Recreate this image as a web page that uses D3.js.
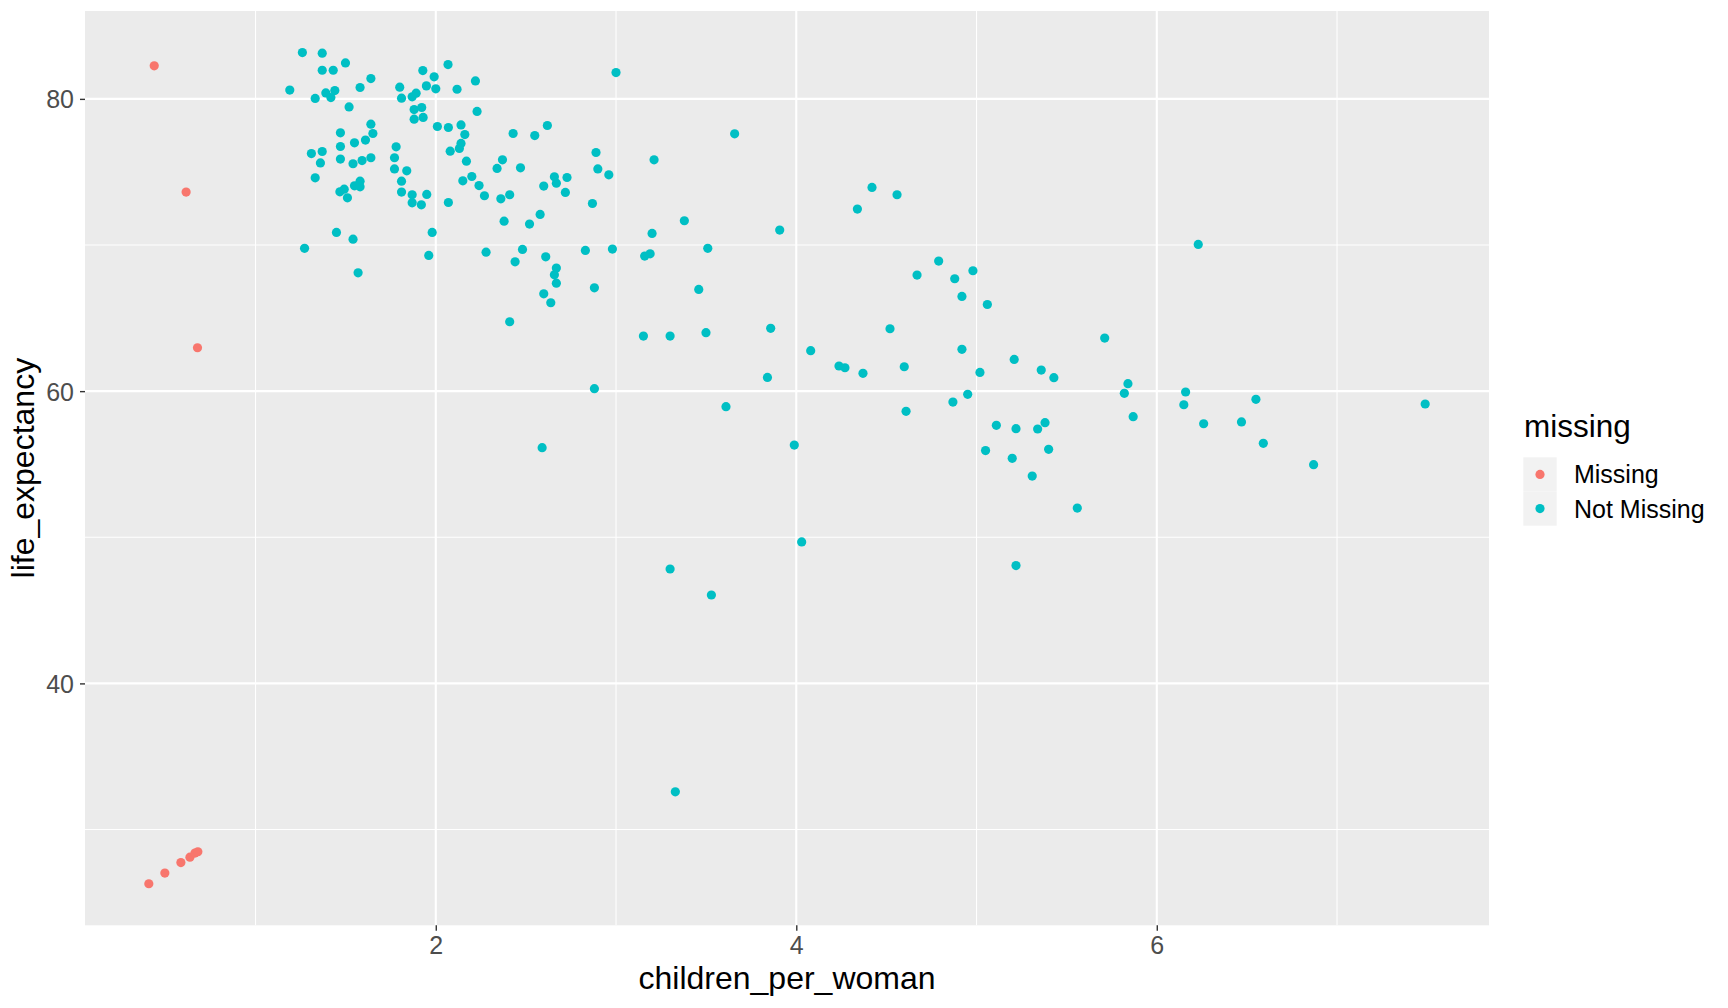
<!DOCTYPE html>
<html>
<head>
<meta charset="utf-8">
<script src="https://cdn.jsdelivr.net/npm/d3@7"></script>
<style>
  html, body { margin: 0; padding: 0; background: #ffffff; }
  svg { display: block; font-family: "Liberation Sans", Arial, Helvetica, sans-serif; }
</style>
</head>
<body>
<svg id="chart" width="1728" height="1008"></svg>
<script>
// ---------------- data ----------------
const groups = ["Missing", "Not Missing"];
const groupColors = ["#F8766D", "#00BFC4"];

const missingChildren = [0.438, 0.615, 0.678, 0.408, 0.497, 0.586, 0.636, 0.664, 0.680];
const missingLife     = [82.26, 73.62, 62.97, 26.29, 27.02, 27.74, 28.11, 28.39, 28.48];

const notMissingChildren = [
  1.260, 1.370, 1.499, 1.370, 1.431, 1.640, 1.190, 1.390, 1.418, 1.440,
  1.331, 1.580, 1.519, 1.800, 1.810, 1.928, 1.991, 2.068, 1.948, 2.000,
  1.869, 1.891, 2.118, 2.220, 3.000, 1.880, 1.922, 1.880, 1.930, 2.229,
  2.009, 2.070, 2.140, 2.161, 1.640, 1.651, 1.471, 1.610, 1.549, 1.471,
  1.310, 1.370, 1.360, 1.471, 1.541, 1.591, 1.640, 1.331, 1.780, 1.771,
  1.771, 1.839, 1.810, 1.810, 1.869, 1.869, 1.920, 1.950, 2.070, 2.080,
  2.131, 2.140, 2.170, 2.200, 2.150, 2.240, 2.270, 2.429, 2.549, 2.619,
  2.370, 2.340, 2.470, 2.361, 2.410, 2.379, 2.520, 2.579, 2.599, 2.658,
  2.669, 2.728, 2.719, 2.889, 2.899, 2.960, 2.869, 1.449, 1.541, 1.272,
  1.569, 1.980, 1.961, 2.279, 2.481, 2.440, 2.610, 2.669, 2.658, 2.669,
  2.599, 2.638, 2.410, 2.830, 2.980, 2.880, 1.468, 1.492, 1.510, 1.549,
  1.580, 1.580,
  3.658, 3.211, 3.200, 3.379, 3.908, 3.159, 3.189, 3.509, 3.459, 3.858,
  4.420, 4.559, 4.339, 4.790, 4.670, 4.879, 4.980, 4.919, 5.060, 3.152,
  3.300, 3.499, 4.520, 4.080, 4.237, 4.270, 4.370, 4.599, 4.919, 5.209,
  5.019, 5.359, 5.429, 3.840, 3.610, 4.609, 4.869, 4.951, 5.110, 5.219,
  5.339, 5.380, 5.050, 5.198, 5.400, 5.309, 5.559, 3.989, 4.030, 5.219,
  3.300, 3.529,
  6.230, 5.711, 5.840, 5.820, 5.869, 6.160, 6.150, 6.260, 6.470, 6.550,
  6.591, 6.870, 7.489,
  2.880, 2.590, 3.329
];
const notMissingLife = [
  83.17, 83.13, 82.46, 81.96, 81.96, 81.39, 80.60, 80.41, 80.09, 80.57,
  80.03, 80.78, 79.45, 80.80, 80.05, 81.94, 81.51, 82.35, 80.89, 80.69,
  80.14, 80.39, 80.66, 81.23, 81.80, 79.27, 79.41, 78.61, 78.73, 79.14,
  78.11, 78.04, 78.22, 77.56, 78.27, 77.63, 77.68, 77.18, 76.99, 76.74,
  76.26, 76.40, 75.62, 75.88, 75.56, 75.78, 75.97, 74.60, 76.72, 75.97,
  75.21, 75.08, 74.37, 73.62, 73.44, 72.89, 72.75, 73.46, 72.91, 76.42,
  76.61, 76.95, 75.74, 74.69, 74.39, 74.07, 73.37, 77.63, 77.49, 78.18,
  75.83, 75.24, 75.28, 73.16, 73.44, 71.63, 71.43, 72.09, 74.03, 74.67,
  74.23, 74.62, 73.60, 76.33, 75.21, 74.80, 72.84, 70.86, 70.40, 69.77,
  68.10, 70.86, 69.29, 69.51, 69.70, 68.85, 69.19, 68.42, 67.96, 67.39,
  66.66, 66.05, 64.75, 69.63, 69.72, 67.07, 73.64, 73.82, 73.23, 74.05,
  74.37, 73.98,
  77.61, 75.83, 70.79, 71.66, 71.02, 69.24, 69.40, 69.77, 66.96, 64.30,
  73.94, 73.44, 72.46, 68.90, 67.94, 67.69, 68.24, 66.48, 65.93, 63.77,
  63.77, 64.00, 64.27, 62.77, 61.72, 61.60, 61.22, 61.67, 62.86, 62.17,
  61.28, 61.44, 60.92, 60.94, 58.94, 58.62, 59.25, 59.78, 57.66, 57.43,
  57.41, 57.84, 55.93, 55.40, 56.02, 54.19, 52.00, 56.31, 49.68, 48.06,
  47.83, 46.05,
  70.04, 63.63, 60.51, 59.85, 58.25, 59.94, 59.07, 57.77, 57.89, 59.44,
  56.43, 54.97, 59.12,
  60.17, 56.13, 32.58
];

const xMajorTicks = [2, 4, 6];
const xMinorTicks = [1, 3, 5, 7];
const yMajorTicks = [40, 60, 80];
const yMinorTicks = [30, 50, 70];

const xTitle = "children_per_woman";
const yTitle = "life_expectancy";
const legendTitle = "missing";

// ---------------- layout ----------------
const panel = { left: 85, right: 1489, top: 11, bottom: 925.3 };
const tickFont = 25, titleFont = 32, legendTitleFont = 31.5;

const points = [];
missingChildren.forEach((v, i) => points.push({ x: v, y: missingLife[i], g: groups[0] }));
notMissingChildren.forEach((v, i) => points.push({ x: v, y: notMissingLife[i], g: groups[1] }));

function expand(ext) {
  const d = (ext[1] - ext[0]) * 0.05;
  return [ext[0] - d, ext[1] + d];
}
const xScale = d3.scaleLinear()
  .domain(expand(d3.extent(points, d => d.x)))
  .range([panel.left, panel.right]);
const yScale = d3.scaleLinear()
  .domain(expand(d3.extent(points, d => d.y)))
  .range([panel.bottom, panel.top]);
const color = d3.scaleOrdinal().domain(groups).range(groupColors);

const svg = d3.select("#chart");

// panel background
svg.append("rect")
  .attr("x", panel.left).attr("y", panel.top)
  .attr("width", panel.right - panel.left)
  .attr("height", panel.bottom - panel.top)
  .attr("fill", "#EBEBEB");

const grid = svg.append("g");
// minor grid
grid.selectAll("line.ymin").data(yMinorTicks).join("line")
  .attr("x1", panel.left).attr("x2", panel.right)
  .attr("y1", d => yScale(d)).attr("y2", d => yScale(d))
  .attr("stroke", "#ffffff").attr("stroke-width", 1.05);
grid.selectAll("line.xmin").data(xMinorTicks).join("line")
  .attr("y1", panel.top).attr("y2", panel.bottom)
  .attr("x1", d => xScale(d)).attr("x2", d => xScale(d))
  .attr("stroke", "#ffffff").attr("stroke-width", 1.05);
// major grid
grid.selectAll("line.ymaj").data(yMajorTicks).join("line")
  .attr("x1", panel.left).attr("x2", panel.right)
  .attr("y1", d => yScale(d)).attr("y2", d => yScale(d))
  .attr("stroke", "#ffffff").attr("stroke-width", 2.1);
grid.selectAll("line.xmaj").data(xMajorTicks).join("line")
  .attr("y1", panel.top).attr("y2", panel.bottom)
  .attr("x1", d => xScale(d)).attr("x2", d => xScale(d))
  .attr("stroke", "#ffffff").attr("stroke-width", 2.1);

// points
svg.append("g").selectAll("circle").data(points).join("circle")
  .attr("cx", d => xScale(d.x))
  .attr("cy", d => yScale(d.y))
  .attr("r", 4.6)
  .attr("fill", d => color(d.g));

// axes
const xAxis = d3.axisBottom(xScale).tickValues(xMajorTicks).tickSize(5.5).tickPadding(5.7).tickFormat(d3.format("d"));
const yAxis = d3.axisLeft(yScale).tickValues(yMajorTicks).tickSize(5).tickPadding(6).tickFormat(d3.format("d"));

const gx = svg.append("g").attr("transform", `translate(0,${panel.bottom})`).call(xAxis);
const gy = svg.append("g").attr("transform", `translate(${panel.left},0)`).call(yAxis);
[gx, gy].forEach(g => {
  g.select(".domain").remove();
  g.selectAll(".tick line").attr("stroke", "#333333").attr("stroke-width", 1.4);
  g.selectAll(".tick text")
    .attr("fill", "#4D4D4D")
    .style("font-size", tickFont + "px")
    .style("font-family", '"Liberation Sans", Arial, Helvetica, sans-serif');
});
gy.selectAll(".tick text").attr("dy", "0.358em");
gx.selectAll(".tick text").attr("dy", "0.71em");

// axis titles
svg.append("text")
  .attr("x", (panel.left + panel.right) / 2)
  .attr("y", 989.3)
  .attr("text-anchor", "middle")
  .attr("fill", "#000000")
  .style("font-size", titleFont + "px")
  .text(xTitle);

svg.append("text")
  .attr("transform", `translate(34.3,${(panel.top + panel.bottom) / 2}) rotate(-90)`)
  .attr("text-anchor", "middle")
  .attr("fill", "#000000")
  .style("font-size", titleFont + "px")
  .text(yTitle);

// legend
const legend = svg.append("g");
legend.append("text")
  .attr("x", 1524).attr("y", 437)
  .attr("fill", "#000000")
  .style("font-size", legendTitleFont + "px")
  .text(legendTitle);

const keyH = 34.2, keyW = 33.4, keyX = 1523.3, keyY = 457.3;
const keys = legend.selectAll("g.key").data(groups).join("g")
  .attr("transform", (d, i) => `translate(${keyX},${keyY + i * keyH})`);
keys.append("rect")
  .attr("width", keyW).attr("height", keyH)
  .attr("fill", "#F2F2F2");
keys.append("circle")
  .attr("cx", keyW / 2).attr("cy", keyH / 2)
  .attr("r", 4.6)
  .attr("fill", d => color(d));
keys.append("text")
  .attr("x", 1574 - keyX)
  .attr("y", keyH / 2)
  .attr("dy", "0.358em")
  .attr("fill", "#000000")
  .style("font-size", tickFont + "px")
  .text(d => d);
</script>
</body>
</html>
